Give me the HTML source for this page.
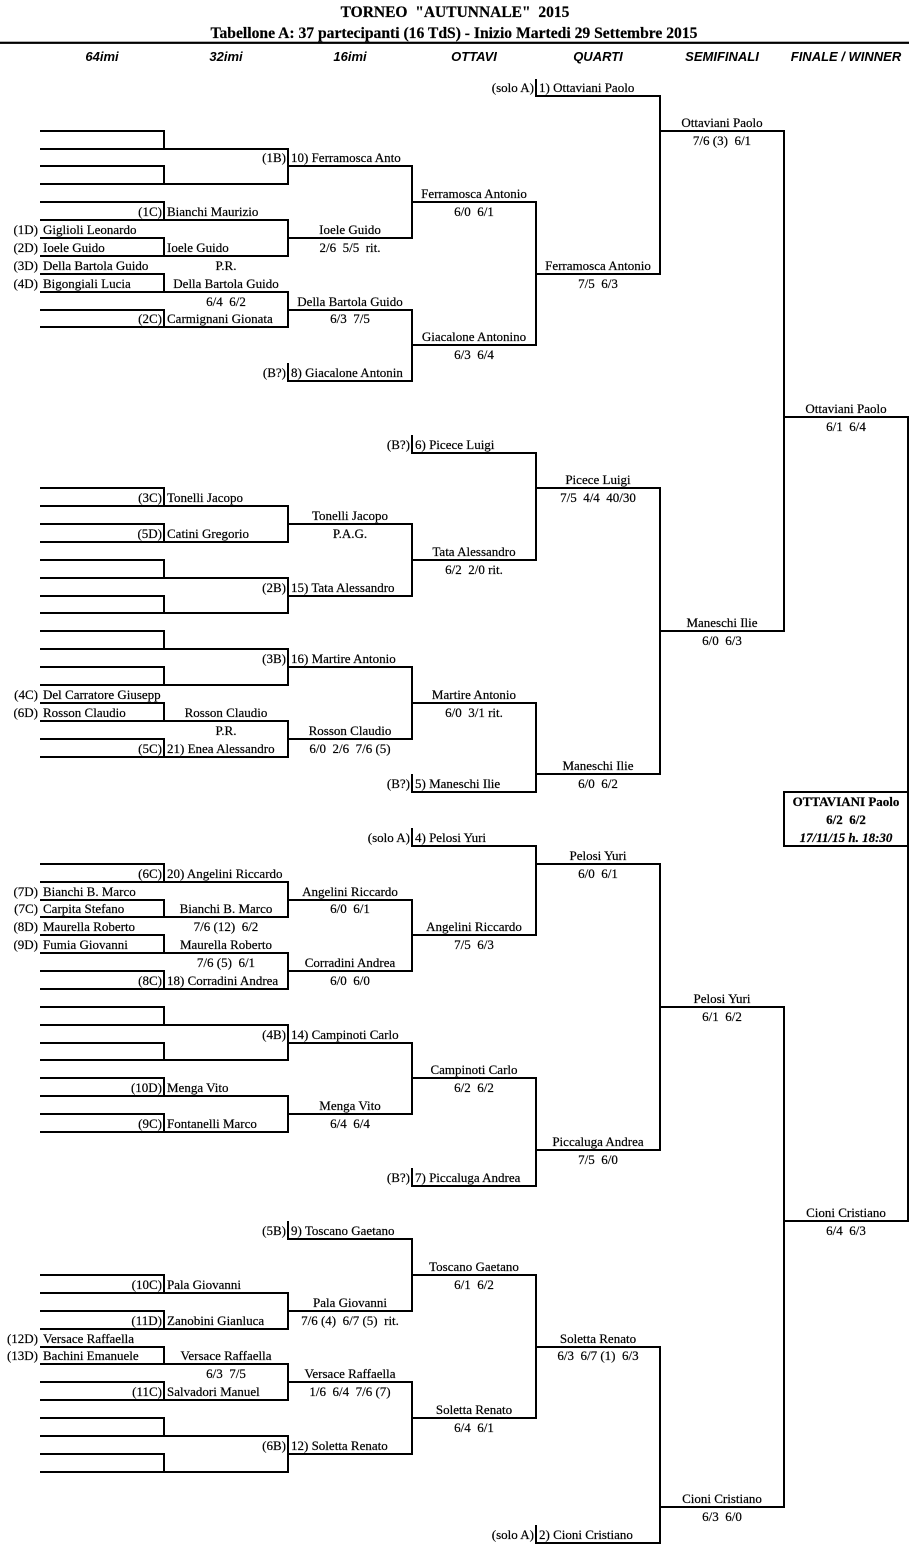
<!DOCTYPE html>
<html>
<head>
<meta charset="utf-8">
<style>
html,body{margin:0;padding:0;background:#fff;}
svg{display:block;}
text{font-family:"Liberation Serif","Times New Roman",serif;font-size:13px;fill:#000;white-space:pre;stroke:#000;stroke-width:0.2px;}
.m{text-anchor:middle;}
.e{text-anchor:end;}
.b{font-weight:bold;}
.h{font-family:"Liberation Sans",Arial,sans-serif;font-style:italic;font-weight:bold;font-size:13px;stroke-width:0;}
</style>
</head>
<body>
<svg width="909" height="1561" viewBox="0 0 909 1561" xmlns="http://www.w3.org/2000/svg">
<rect x="0" y="0" width="909" height="1561" fill="#fff"/>

<!-- Header -->
<text x="455" y="17" class="m b" style="font-size:15.5px">TORNEO&#160; "AUTUNNALE"&#160; 2015</text>
<text x="454" y="38" class="m b" style="font-size:15.5px" textLength="487" lengthAdjust="spacingAndGlyphs">Tabellone A: 37 partecipanti (16 TdS) - Inizio Martedi 29 Settembre 2015</text>
<rect x="0" y="41.7" width="909" height="2.2" fill="#000"/>
<text x="102" y="61" class="m h">64imi</text>
<text x="226" y="61" class="m h">32imi</text>
<text x="350" y="61" class="m h">16imi</text>
<text x="474" y="61" class="m h">OTTAVI</text>
<text x="598" y="61" class="m h">QUARTI</text>
<text x="722" y="61" class="m h">SEMIFINALI</text>
<text x="846" y="61" class="m h">FINALE / WINNER</text>

<!-- Bracket lines -->
<g fill="none" stroke="#000" stroke-width="2">
<path d="M40 131 H164 V149 M40 149 H288 V184 H40 M40 166 H164 V184"/>
<path d="M40 202 H164 V220 M40 220 H288 V256 H40 M40 238 H164 V256"/>
<path d="M40 274 H164 V292 M40 292 H288 V327 H40 M40 310 H164 V327"/>
<path d="M40 488 H164 V506 M40 506 H288 V542 H40 M40 524 H164 V542"/>
<path d="M40 560 H164 V578 M40 578 H288 V613 H40 M40 596 H164 V613"/>
<path d="M40 631 H164 V649 M40 649 H288 V685 H40 M40 667 H164 V685"/>
<path d="M40 703 H164 V721 M40 721 H288 V757 H40 M40 739 H164 V757"/>
<path d="M40 864 H164 V882 M40 882 H288 V917 H40 M40 900 H164 V917"/>
<path d="M40 935 H164 V953 M40 953 H288 V989 H40 M40 971 H164 V989"/>
<path d="M40 1007 H164 V1025 M40 1025 H288 V1060 H40 M40 1043 H164 V1060"/>
<path d="M40 1078 H164 V1096 M40 1096 H288 V1132 H40 M40 1114 H164 V1132"/>
<path d="M40 1275 H164 V1293 M40 1293 H288 V1329 H40 M40 1311 H164 V1329"/>
<path d="M40 1347 H164 V1364 M40 1364 H288 V1400 H40 M40 1382 H164 V1400"/>
<path d="M40 1418 H164 V1436 M40 1436 H288 V1472 H40 M40 1454 H164 V1472"/>

<path d="M288 166 H412 V238 H288"/>
<path d="M288 363 V381 H412 V310 H288"/>
<path d="M288 524 H412 V596 H288"/>
<path d="M288 667 H412 V739 H288"/>
<path d="M288 900 H412 V971 H288"/>
<path d="M288 1043 H412 V1114 H288"/>
<path d="M288 1221 V1239 H412 V1311 H288"/>
<path d="M288 1382 H412 V1454 H288"/>

<path d="M412 202 H536 V345 H412"/>
<path d="M412 435 V453 H536 V560 H412"/>
<path d="M412 774 V792 H536 V703 H412"/>
<path d="M412 828 V846 H536 V935 H412"/>
<path d="M412 1168 V1186 H536 V1078 H412"/>
<path d="M412 1275 H536 V1418 H412"/>

<path d="M536 79 V96 H660 V274 H536"/>
<path d="M536 488 H660 V774 H536"/>
<path d="M536 864 H660 V1150 H536"/>
<path d="M536 1525 V1543 H660 V1347 H536"/>

<path d="M660 131 H784 V631 H660"/>
<path d="M660 1007 H784 V1507 H660"/>

<path d="M784 417 H908 V792"/>
<path d="M908 846 V1221 H784"/>
<rect x="784" y="792" width="124" height="54"/>
</g>

<!-- Winner box text -->
<text x="846" y="806" class="m b">OTTAVIANI Paolo</text>
<text x="846" y="824" class="m b">6/2&#160; 6/2</text>
<text x="846" y="842" class="m b" style="font-style:italic">17/11/15 h. 18:30</text>

<!-- Top half texts -->
<text x="534" y="92" class="e">(solo A)</text>
<text x="539" y="92">1) Ottaviani Paolo</text>
<text x="722" y="127" class="m">Ottaviani Paolo</text>
<text x="722" y="145" class="m">7/6 (3)&#160; 6/1</text>
<text x="286" y="162" class="e">(1B)</text>
<text x="291" y="162">10) Ferramosca Anto</text>
<text x="474" y="198" class="m">Ferramosca Antonio</text>
<text x="474" y="216" class="m">6/0&#160; 6/1</text>
<text x="162" y="216" class="e">(1C)</text>
<text x="167" y="216">Bianchi Maurizio</text>
<text x="38" y="234" class="e">(1D)</text>
<text x="43" y="234">Giglioli Leonardo</text>
<text x="350" y="234" class="m">Ioele Guido</text>
<text x="38" y="252" class="e">(2D)</text>
<text x="43" y="252">Ioele Guido</text>
<text x="167" y="252">Ioele Guido</text>
<text x="350" y="252" class="m">2/6&#160; 5/5&#160; rit.</text>
<text x="38" y="270" class="e">(3D)</text>
<text x="43" y="270">Della Bartola Guido</text>
<text x="226" y="270" class="m">P.R.</text>
<text x="598" y="270" class="m">Ferramosca Antonio</text>
<text x="38" y="288" class="e">(4D)</text>
<text x="43" y="288">Bigongiali Lucia</text>
<text x="226" y="288" class="m">Della Bartola Guido</text>
<text x="598" y="288" class="m">7/5&#160; 6/3</text>
<text x="226" y="306" class="m">6/4&#160; 6/2</text>
<text x="350" y="306" class="m">Della Bartola Guido</text>
<text x="162" y="323" class="e">(2C)</text>
<text x="167" y="323">Carmignani Gionata</text>
<text x="350" y="323" class="m">6/3&#160; 7/5</text>
<text x="474" y="341" class="m">Giacalone Antonino</text>
<text x="474" y="359" class="m">6/3&#160; 6/4</text>
<text x="286" y="377" class="e">(B?)</text>
<text x="291" y="377">8) Giacalone Antonin</text>
<text x="846" y="413" class="m">Ottaviani Paolo</text>
<text x="846" y="431" class="m">6/1&#160; 6/4</text>
<text x="410" y="449" class="e">(B?)</text>
<text x="415" y="449">6) Picece Luigi</text>
<text x="598" y="484" class="m">Picece Luigi</text>
<text x="598" y="502" class="m">7/5&#160; 4/4&#160; 40/30</text>
<text x="162" y="502" class="e">(3C)</text>
<text x="167" y="502">Tonelli Jacopo</text>
<text x="350" y="520" class="m">Tonelli Jacopo</text>
<text x="350" y="538" class="m">P.A.G.</text>
<text x="162" y="538" class="e">(5D)</text>
<text x="167" y="538">Catini Gregorio</text>
<text x="474" y="556" class="m">Tata Alessandro</text>
<text x="474" y="574" class="m">6/2&#160; 2/0 rit.</text>
<text x="286" y="592" class="e">(2B)</text>
<text x="291" y="592">15) Tata Alessandro</text>
<text x="722" y="627" class="m">Maneschi Ilie</text>
<text x="722" y="645" class="m">6/0&#160; 6/3</text>
<text x="286" y="663" class="e">(3B)</text>
<text x="291" y="663">16) Martire Antonio</text>
<text x="38" y="699" class="e">(4C)</text>
<text x="43" y="699">Del Carratore Giusepp</text>
<text x="474" y="699" class="m">Martire Antonio</text>
<text x="38" y="717" class="e">(6D)</text>
<text x="43" y="717">Rosson Claudio</text>
<text x="226" y="717" class="m">Rosson Claudio</text>
<text x="474" y="717" class="m">6/0&#160; 3/1 rit.</text>
<text x="226" y="735" class="m">P.R.</text>
<text x="350" y="735" class="m">Rosson Claudio</text>
<text x="162" y="753" class="e">(5C)</text>
<text x="167" y="753">21) Enea Alessandro</text>
<text x="350" y="753" class="m">6/0&#160; 2/6&#160; 7/6 (5)</text>
<text x="598" y="770" class="m">Maneschi Ilie</text>
<text x="410" y="788" class="e">(B?)</text>
<text x="415" y="788">5) Maneschi Ilie</text>
<text x="598" y="788" class="m">6/0&#160; 6/2</text>

<!-- Bottom half texts -->
<text x="410" y="842" class="e">(solo A)</text>
<text x="415" y="842">4) Pelosi Yuri</text>
<text x="598" y="860" class="m">Pelosi Yuri</text>
<text x="598" y="878" class="m">6/0&#160; 6/1</text>
<text x="162" y="878" class="e">(6C)</text>
<text x="167" y="878">20) Angelini Riccardo</text>
<text x="38" y="896" class="e">(7D)</text>
<text x="43" y="896">Bianchi B. Marco</text>
<text x="350" y="896" class="m">Angelini Riccardo</text>
<text x="38" y="913" class="e">(7C)</text>
<text x="43" y="913">Carpita Stefano</text>
<text x="226" y="913" class="m">Bianchi B. Marco</text>
<text x="350" y="913" class="m">6/0&#160; 6/1</text>
<text x="38" y="931" class="e">(8D)</text>
<text x="43" y="931">Maurella Roberto</text>
<text x="226" y="931" class="m">7/6 (12)&#160; 6/2</text>
<text x="474" y="931" class="m">Angelini Riccardo</text>
<text x="38" y="949" class="e">(9D)</text>
<text x="43" y="949">Fumia Giovanni</text>
<text x="226" y="949" class="m">Maurella Roberto</text>
<text x="474" y="949" class="m">7/5&#160; 6/3</text>
<text x="226" y="967" class="m">7/6 (5)&#160; 6/1</text>
<text x="350" y="967" class="m">Corradini Andrea</text>
<text x="162" y="985" class="e">(8C)</text>
<text x="167" y="985">18) Corradini Andrea</text>
<text x="350" y="985" class="m">6/0&#160; 6/0</text>
<text x="722" y="1003" class="m">Pelosi Yuri</text>
<text x="722" y="1021" class="m">6/1&#160; 6/2</text>
<text x="286" y="1039" class="e">(4B)</text>
<text x="291" y="1039">14) Campinoti Carlo</text>
<text x="474" y="1074" class="m">Campinoti Carlo</text>
<text x="474" y="1092" class="m">6/2&#160; 6/2</text>
<text x="162" y="1092" class="e">(10D)</text>
<text x="167" y="1092">Menga Vito</text>
<text x="350" y="1110" class="m">Menga Vito</text>
<text x="350" y="1128" class="m">6/4&#160; 6/4</text>
<text x="162" y="1128" class="e">(9C)</text>
<text x="167" y="1128">Fontanelli Marco</text>
<text x="598" y="1146" class="m">Piccaluga Andrea</text>
<text x="598" y="1164" class="m">7/5&#160; 6/0</text>
<text x="410" y="1182" class="e">(B?)</text>
<text x="415" y="1182">7) Piccaluga Andrea</text>
<text x="846" y="1217" class="m">Cioni Cristiano</text>
<text x="846" y="1235" class="m">6/4&#160; 6/3</text>
<text x="286" y="1235" class="e">(5B)</text>
<text x="291" y="1235">9) Toscano Gaetano</text>
<text x="474" y="1271" class="m">Toscano Gaetano</text>
<text x="474" y="1289" class="m">6/1&#160; 6/2</text>
<text x="162" y="1289" class="e">(10C)</text>
<text x="167" y="1289">Pala Giovanni</text>
<text x="350" y="1307" class="m">Pala Giovanni</text>
<text x="350" y="1325" class="m">7/6 (4)&#160; 6/7 (5)&#160; rit.</text>
<text x="162" y="1325" class="e">(11D)</text>
<text x="167" y="1325">Zanobini Gianluca</text>
<text x="38" y="1343" class="e">(12D)</text>
<text x="43" y="1343">Versace Raffaella</text>
<text x="598" y="1343" class="m">Soletta Renato</text>
<text x="38" y="1360" class="e">(13D)</text>
<text x="43" y="1360">Bachini Emanuele</text>
<text x="226" y="1360" class="m">Versace Raffaella</text>
<text x="598" y="1360" class="m">6/3&#160; 6/7 (1)&#160; 6/3</text>
<text x="226" y="1378" class="m">6/3&#160; 7/5</text>
<text x="350" y="1378" class="m">Versace Raffaella</text>
<text x="162" y="1396" class="e">(11C)</text>
<text x="167" y="1396">Salvadori Manuel</text>
<text x="350" y="1396" class="m">1/6&#160; 6/4&#160; 7/6 (7)</text>
<text x="474" y="1414" class="m">Soletta Renato</text>
<text x="474" y="1432" class="m">6/4&#160; 6/1</text>
<text x="286" y="1450" class="e">(6B)</text>
<text x="291" y="1450">12) Soletta Renato</text>
<text x="722" y="1503" class="m">Cioni Cristiano</text>
<text x="722" y="1521" class="m">6/3&#160; 6/0</text>
<text x="534" y="1539" class="e">(solo A)</text>
<text x="539" y="1539">2) Cioni Cristiano</text>
</svg>
</body>
</html>
